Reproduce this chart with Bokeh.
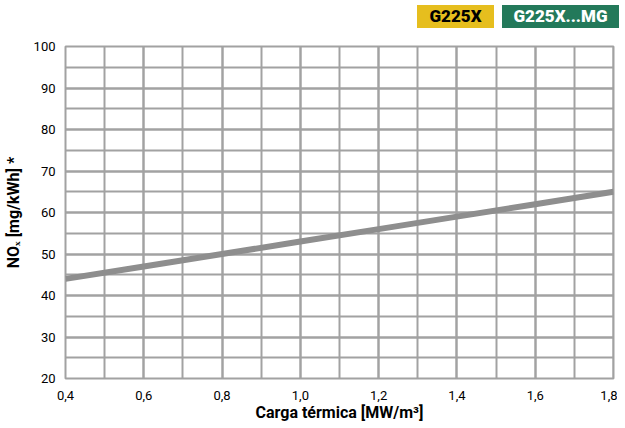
from bokeh.plotting import figure
from bokeh.models import Div, FixedTicker, CustomJSTickFormatter, Range1d
from bokeh.layouts import column
from bokeh.embed import file_html
from bokeh.resources import INLINE

# data
load = [0.4, 0.6, 0.8, 1.0, 1.2, 1.4, 1.6, 1.8]
nox = [44, 47, 50, 53, 56, 59, 62, 65]
x_ticks = [0.4, 0.6, 0.8, 1.0, 1.2, 1.4, 1.6, 1.8]
x_minor = [0.4 + 0.1 * i for i in range(15)]
y_ticks = [20, 30, 40, 50, 60, 70, 80, 90, 100]
y_minor = list(range(20, 101, 5))
badges = ["G225X", "G225X...MG"]

GRID = "#a2a2a2"
FONT = "Roboto"
W = 617

badge_html = (
    '<div style="position:relative;width:%dpx;height:24px;font-family:Roboto,sans-serif;'
    'font-weight:900;font-size:17px;">'
    '<span style="position:absolute;left:412px;top:0px;width:77px;height:23px;line-height:23px;'
    'text-align:center;background:#E6BE1E;color:#000;">%s</span>'
    '<span style="position:absolute;left:497px;top:0px;width:117px;height:23px;line-height:23px;'
    'text-align:center;background:#23795A;color:#fff;">%s</span></div>' % (W, badges[0], badges[1])
)
div = Div(text=badge_html, width=W, height=24)

p = figure(width=W, height=390, output_backend="svg", toolbar_location=None,
           x_range=Range1d(0.4, 1.8), y_range=Range1d(20, 100),
           min_border_left=57, min_border_right=4, min_border_top=12, min_border_bottom=39)

p.line(load, nox, line_color="#8e8e8e", line_width=6)

p.xaxis.ticker = FixedTicker(ticks=x_ticks, minor_ticks=x_minor)
p.yaxis.ticker = FixedTicker(ticks=y_ticks, minor_ticks=y_minor)
p.xaxis.formatter = CustomJSTickFormatter(code="return tick.toFixed(1).replace('.', ',');")

for ax in [p.xaxis[0], p.yaxis[0]]:
    ax.axis_line_color = None
    ax.major_tick_line_color = None
    ax.minor_tick_line_color = None
    ax.major_label_text_font = FONT
    ax.major_label_text_font_size = "13px"
    ax.major_label_text_color = "#000000"
    ax.axis_label_text_font = FONT
    ax.axis_label_text_font_style = "bold"
    ax.axis_label_text_font_size = "16px"
    ax.axis_label_text_color = "#000000"
    ax.major_label_standoff = 4

p.xaxis.major_label_standoff = 6
p.xaxis.axis_label = "Carga térmica [MW/m³]"
p.xaxis.axis_label_standoff = 0
p.yaxis.axis_label = "NOₓ [mg/kWh] *"
p.yaxis.axis_label_standoff = 8

for g in [p.xgrid[0], p.ygrid[0]]:
    g.grid_line_color = GRID
    g.grid_line_width = 2
    g.minor_grid_line_color = GRID
    g.minor_grid_line_width = 2

p.outline_line_color = GRID
p.outline_line_width = 2

layout = column(div, p, spacing=0)
open("out.html", "w").write(file_html(layout, INLINE))
